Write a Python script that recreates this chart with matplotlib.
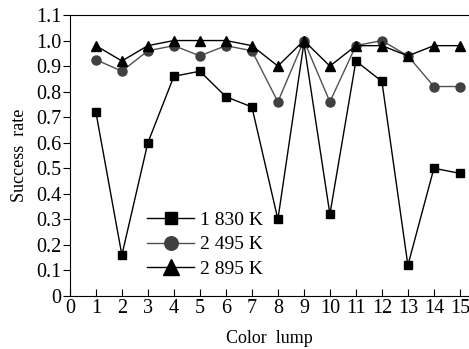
import matplotlib
matplotlib.use('Agg')
import matplotlib.pyplot as plt

lumps = list(range(1, 16))
rate_1830 = [0.72, 0.16, 0.60, 0.86, 0.88, 0.78, 0.74, 0.30, 0.99, 0.32, 0.92, 0.84, 0.12, 0.50, 0.48]
rate_2495 = [0.925, 0.88, 0.96, 0.98, 0.94, 0.98, 0.96, 0.76, 1.00, 0.76, 0.98, 1.00, 0.94, 0.82, 0.82]
rate_2895 = [0.98, 0.92, 0.98, 1.00, 1.00, 1.00, 0.98, 0.90, 1.00, 0.90, 0.98, 0.98, 0.94, 0.98, 0.98]
labels = ['1 830 K', '2 495 K', '2 895 K']

plt.rcParams['font.family'] = 'Liberation Serif'

fig = plt.figure(figsize=(4.69, 3.49), dpi=100)
ax = fig.add_axes([0.149, 0.152, 0.851, 0.805])

ax.plot(lumps, rate_1830, color='black', lw=1, marker='s', ms=5.5, label=labels[0])
ax.plot(lumps, rate_2495, color='#505050', lw=1, marker='o', ms=6.5,
        mfc='#404040', mec='#404040', label=labels[1])
ax.plot(lumps, rate_2895, color='black', lw=1, marker='^', ms=7.5, label=labels[2])

ax.set_xlim(0, 15.35)
ax.set_ylim(0, 1.1)
ax.set_xticks(range(0, 16))
ax.set_yticks([0, 0.1, 0.2, 0.3, 0.4, 0.5, 0.6, 0.7, 0.8, 0.9, 1.0, 1.1])
ax.set_yticklabels(['0', '0.1', '0.2', '0.3', '0.4', '0.5', '0.6', '0.7', '0.8', '0.9', '1.0', '1.1'])
ax.tick_params(axis='x', direction='in', length=5, labelsize=14.5, pad=2)
ax.tick_params(axis='y', direction='out', length=5, labelsize=14.5, pad=1)
ax.spines['right'].set_visible(False)

ax.set_xlabel('Color  lump', fontsize=13, labelpad=9)
ax.set_ylabel('Success  rate', fontsize=13, labelpad=6)

ax.legend(loc='lower left', bbox_to_anchor=(0.17, 0.03), frameon=False, fontsize=14,
          handlelength=2.4, handletextpad=0.3, labelspacing=0.35, borderpad=0,
          markerscale=1.5)

fig.savefig('out.png', dpi=100)
